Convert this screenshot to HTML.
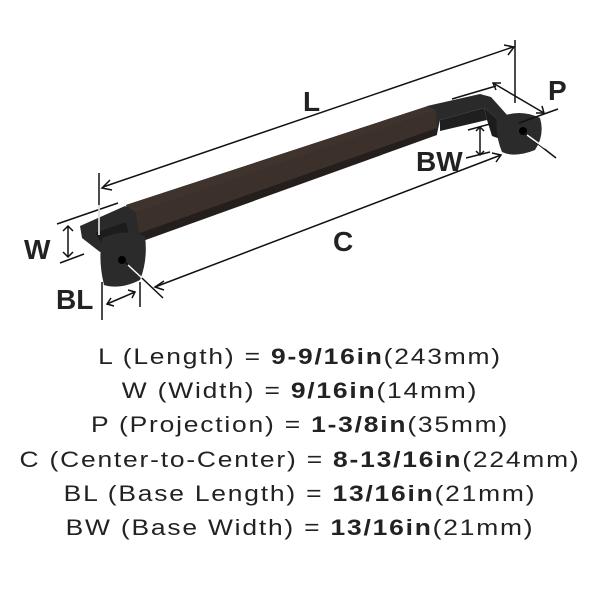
<!DOCTYPE html>
<html><head><meta charset="utf-8"><style>
html,body{margin:0;padding:0;background:#fff;width:600px;height:600px;overflow:hidden}
.t{position:absolute;left:0;width:600px;text-align:center;font-family:"Liberation Sans",sans-serif;font-size:22px;letter-spacing:1.5px;color:#222;line-height:24px;transform:scaleX(1.2);transform-origin:300px 0}
.t b{font-weight:bold}
</style></head><body>
<svg width="600" height="600" style="position:absolute;left:0;top:0">
<polygon points="126,205 428,106 437,110 437,134 140,241 134,236" fill="#2f2825"/>
<polygon points="126,205 428,106 437,110 135,213" fill="#3e332d"/>
<polygon points="135,213 437,110 437,134 140,241" fill="#3b302a"/>
<polygon points="137,234 437,128 437,135 140,242" fill="#241f1d"/>
<polygon points="427,106 480,94 491,97 508,116 500,121 484,108 440,120 437,134 436,110" fill="#2a2a2a"/>
<polygon points="440,120 484,108 487,120 440,131" fill="#1f1f1f"/>
<polygon points="484,108 500,121 503,140 492,136 487,120" fill="#1c1c1c"/>
<path d="M497,118 Q520,108 540,118 Q545,135 535,150 Q515,158 502,152 Q495,135 497,118Z" fill="#2b2b2b"/>
<circle cx="523" cy="131" r="4" fill="#000"/>
<polygon points="80,226 125,206 136,212 140,241 112,246 100,252 82,238" fill="#2a2a2a"/>
<polygon points="95,233 126,222 130,240 104,246" fill="#1c1c1c"/>
<path d="M102,238 Q125,228 145,236 Q148,260 140,280 Q120,290 104,285 Q98,260 102,238Z" fill="#2b2b2b"/>
<circle cx="122" cy="260" r="4" fill="#000"/>
<g stroke="#111" stroke-width="1.5" fill="none">
<line x1="103" y1="187" x2="513" y2="47"/>
<polyline points="110,180 102,188 112,190"/>
<polyline points="504,45 514,47 508,55"/>
<line x1="99" y1="173" x2="99" y2="235"/>
<line x1="515" y1="40" x2="515" y2="103"/>
<line x1="493" y1="83" x2="544" y2="113"/>
<polyline points="496,90 493,83 501,83"/><polyline points="536,113 544,113 542,106"/>
<line x1="452" y1="99" x2="496" y2="86"/>
<line x1="519" y1="123" x2="558" y2="109"/>
<line x1="57" y1="224" x2="118" y2="203"/>
<line x1="60" y1="263" x2="84" y2="254"/>
<line x1="68" y1="226" x2="68" y2="257"/>
<polyline points="63,231 68,226 73,231"/><polyline points="63,252 68,257 73,252"/>
<line x1="102" y1="282" x2="102" y2="320"/>
<line x1="140" y1="282" x2="140" y2="307"/>
<line x1="107" y1="304" x2="135" y2="292"/>
<polyline points="111,298 107,304 114,306"/><polyline points="128,290 135,292 132,298"/>
<line x1="155" y1="287" x2="501" y2="155"/>
<polyline points="164,281 155,287 164,290"/><polyline points="492,153 501,155 496,162"/>
<line x1="125" y1="262" x2="163" y2="298"/>
<line x1="524" y1="133" x2="556" y2="158"/>
<line x1="468" y1="130" x2="490" y2="124"/><line x1="466" y1="158" x2="490" y2="152"/>
<line x1="480" y1="127" x2="480" y2="155"/>
<polyline points="476,131 480,127 484,131"/><polyline points="476,151 480,155 484,151"/>
</g>
<g stroke="#fff" stroke-width="1.5"><line x1="99" y1="205" x2="99" y2="235"/><line x1="128" y1="265" x2="142" y2="278"/><line x1="527" y1="135" x2="545" y2="148"/></g>
<g font-family="Liberation Sans,sans-serif" font-size="28" font-weight="bold" fill="#222">
<text x="303" y="111">L</text>
<text x="548" y="100">P</text>
<text x="416" y="171">BW</text>
<text x="24" y="259">W</text>
<text x="56" y="309">BL</text>
<text x="333" y="251">C</text>
</g>
</svg>
<div class="t" style="top:345px">L (Length) = <b>9-9/16in</b>(243mm)</div>
<div class="t" style="top:379px">W (Width) = <b>9/16in</b>(14mm)</div>
<div class="t" style="top:413px">P (Projection) = <b>1-3/8in</b>(35mm)</div>
<div class="t" style="top:448px">C (Center-to-Center) = <b>8-13/16in</b>(224mm)</div>
<div class="t" style="top:482px">BL (Base Length) = <b>13/16in</b>(21mm)</div>
<div class="t" style="top:516px">BW (Base Width) = <b>13/16in</b>(21mm)</div>
</body></html>
